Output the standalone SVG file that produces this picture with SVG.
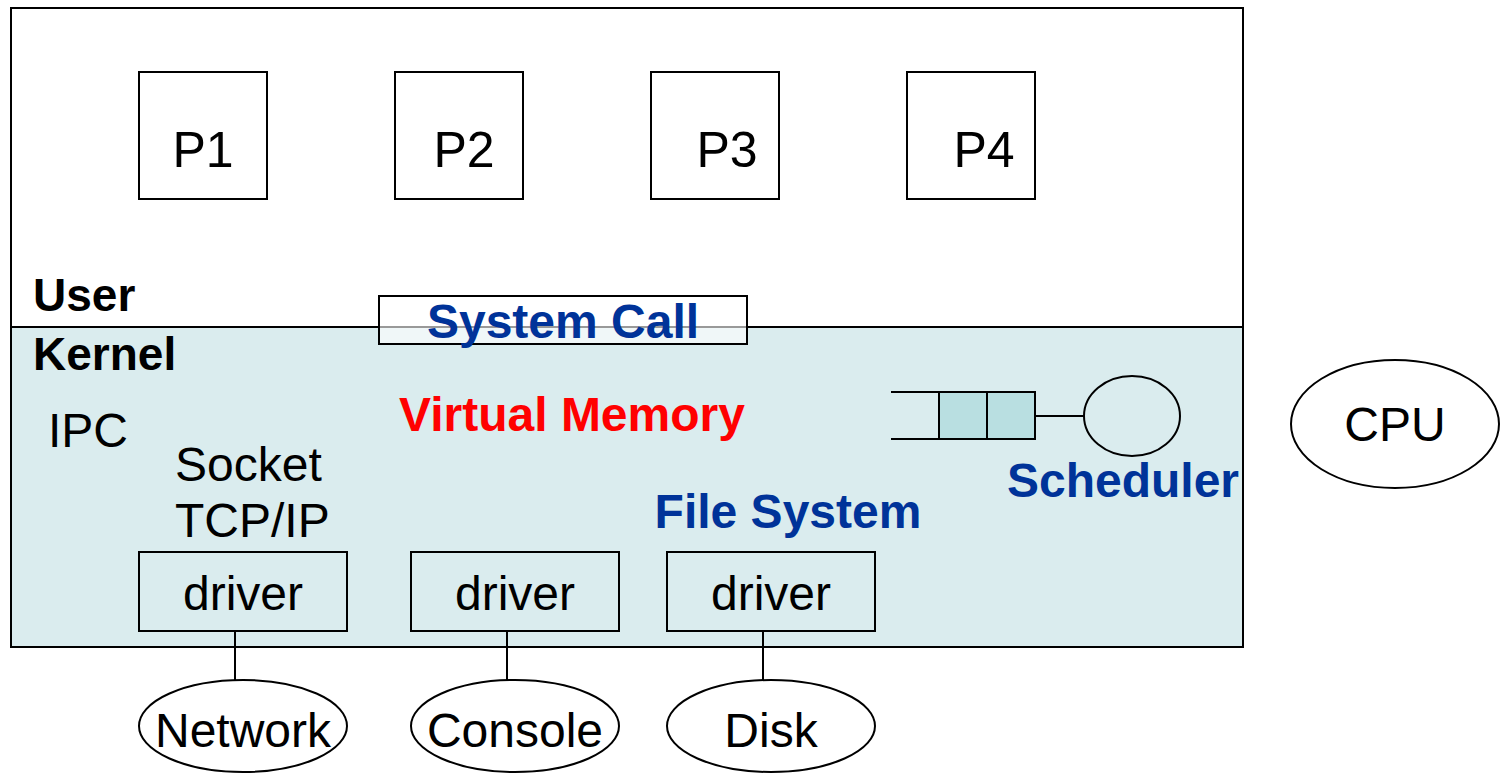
<svg xmlns="http://www.w3.org/2000/svg" width="1505" height="774" viewBox="0 0 1505 774">
<style>
.s{stroke:#000;stroke-width:2;fill:none}
.w{stroke:#000;stroke-width:2;fill:#fff}
.k{stroke:#000;stroke-width:2;fill:#daecee}
.t{font-family:"Liberation Sans",Arial,sans-serif;fill:#000;font-size:48px}
.b{font-family:"Liberation Sans",Arial,sans-serif;font-weight:bold;font-size:48px}
.p{font-size:50px}
.blue{fill:#003399}
.red{fill:#ff0000}
</style>
<rect width="1505" height="774" fill="#fff"/>
<g id="system">
<rect x="11" y="8" width="1232" height="639" class="w"/>
<rect x="11" y="327" width="1232" height="320" class="k"/>
<text x="33" y="311" class="b" style="font-size:46px">User</text>
<text x="33" y="370" class="b" style="font-size:46px">Kernel</text>
</g>
<g id="p1"><rect x="139" y="72" width="128" height="127" class="w"/><text x="203" y="167" class="t p" text-anchor="middle">P1</text></g>
<g id="p2"><rect x="395" y="72" width="128" height="127" class="w"/><text x="464" y="167" class="t p" text-anchor="middle">P2</text></g>
<g id="p3"><rect x="651" y="72" width="128" height="127" class="w"/><text x="727" y="167" class="t p" text-anchor="middle">P3</text></g>
<g id="p4"><rect x="907" y="72" width="128" height="127" class="w"/><text x="984" y="167" class="t p" text-anchor="middle">P4</text></g>
<g id="syscall">
<rect x="379" y="296" width="368" height="48" fill="#fff" fill-opacity="0.6" stroke="#000" stroke-width="2"/>
<text x="563" y="338" class="b blue" text-anchor="middle">System Call</text>
</g>
<g id="vm"><text x="572" y="431" class="b red" text-anchor="middle">Virtual Memory</text></g>
<g id="ipc"><text x="48" y="447" class="t">IPC</text></g>
<g id="socket"><text x="175" y="481" class="t">Socket</text><text x="175" y="537" class="t">TCP/IP</text></g>
<g id="fs"><text x="788" y="528" class="b blue" text-anchor="middle">File System</text></g>
<g id="scheduler">
<line x1="891" y1="392" x2="939" y2="392" class="s"/>
<line x1="891" y1="439" x2="939" y2="439" class="s"/>
<rect x="939" y="392" width="48" height="47" fill="#b9dfe1" stroke="#000" stroke-width="2"/>
<rect x="987" y="392" width="48" height="47" fill="#b9dfe1" stroke="#000" stroke-width="2"/>
<ellipse cx="1132" cy="416" rx="48" ry="40" class="s"/>
<text x="1123" y="497" class="b blue" text-anchor="middle">Scheduler</text>
</g>
<g id="cpu"><ellipse cx="1395" cy="424" rx="104" ry="64" class="w"/><text x="1395" y="441" class="t" text-anchor="middle">CPU</text></g>
<g id="drv1"><rect x="139" y="552" width="208" height="79" class="k"/><text x="243" y="610" class="t" text-anchor="middle">driver</text></g>
<g id="drv2"><rect x="411" y="552" width="208" height="79" class="k"/><text x="515" y="610" class="t" text-anchor="middle">driver</text></g>
<g id="drv3"><rect x="667" y="552" width="208" height="79" class="k"/><text x="771" y="610" class="t" text-anchor="middle">driver</text></g>
<g id="connectors">
<line x1="1035" y1="416" x2="1084" y2="416" class="s"/>
<line x1="235" y1="631" x2="235" y2="680" class="s"/>
<line x1="507" y1="631" x2="507" y2="680" class="s"/>
<line x1="763" y1="631" x2="763" y2="680" class="s"/>
</g>
<g id="network"><ellipse cx="243" cy="726" rx="104" ry="46" class="w"/><text x="243" y="747" class="t" text-anchor="middle">Network</text></g>
<g id="console"><ellipse cx="515" cy="726" rx="104" ry="46" class="w"/><text x="515" y="747" class="t" text-anchor="middle">Console</text></g>
<g id="disk"><ellipse cx="771" cy="726" rx="104" ry="46" class="w"/><text x="771" y="747" class="t" text-anchor="middle">Disk</text></g>
</svg>
